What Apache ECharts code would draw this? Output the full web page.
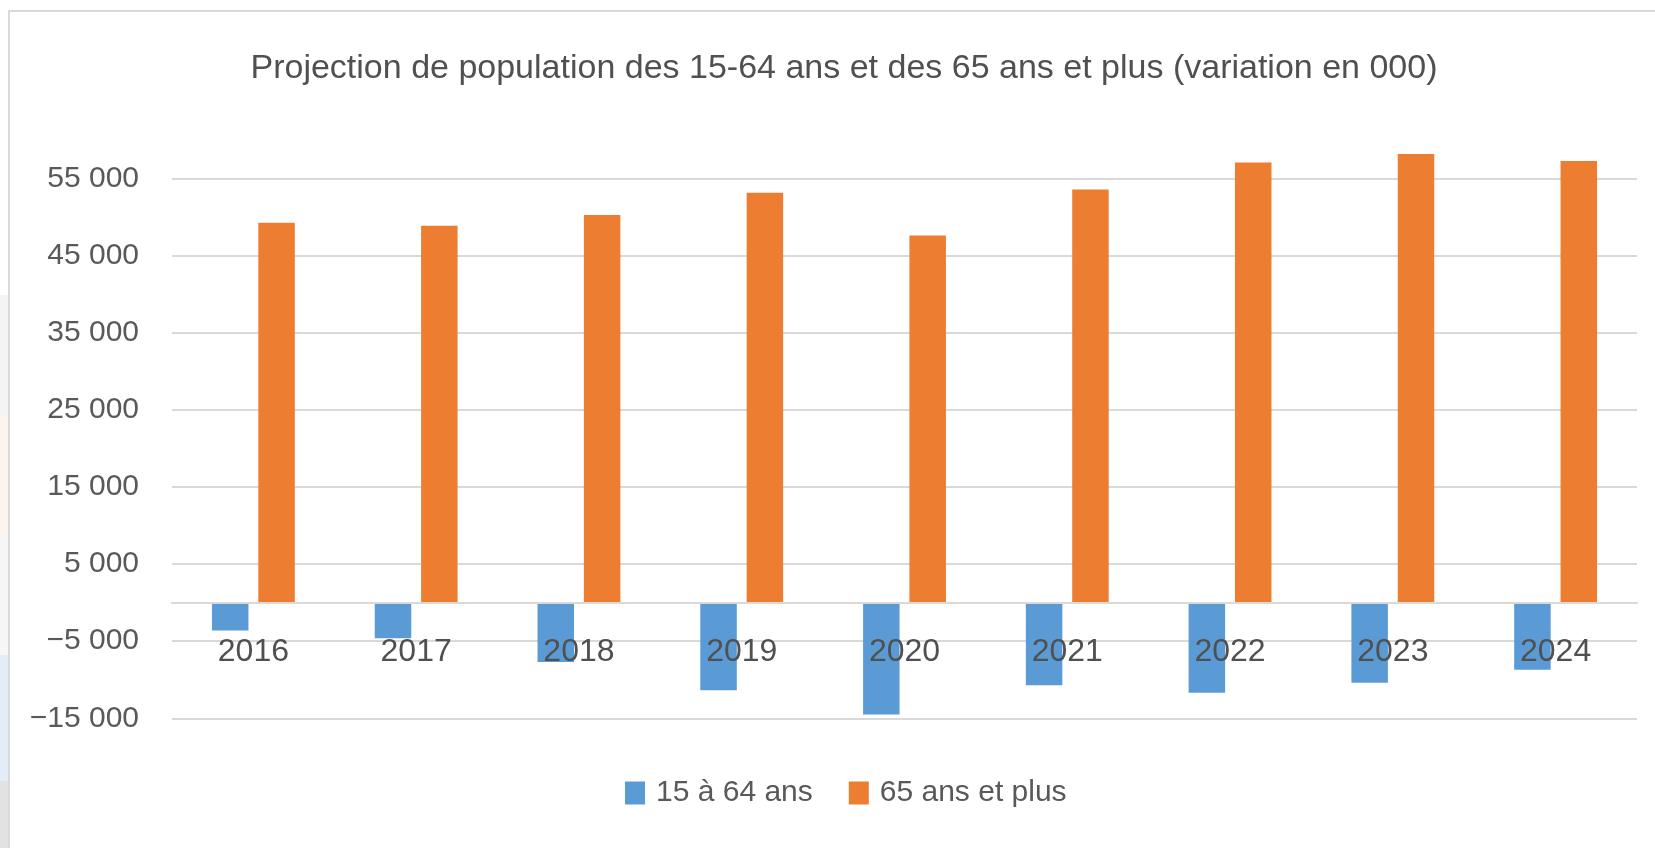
<!DOCTYPE html>
<html>
<head>
<meta charset="utf-8">
<script src="https://cdn.jsdelivr.net/npm/echarts@6/dist/echarts.min.js"></script>
<style>
  html, body { margin: 0; padding: 0; background: #ffffff; }
  #chart { width: 1655px; height: 848px; }
</style>
</head>
<body>
<div id="chart"></div>
<script>
// ---- data ----
const years = ['2016', '2017', '2018', '2019', '2020', '2021', '2022', '2023', '2024'];
const pop15to64 = [-3600, -4600, -7700, -11350, -14500, -10700, -11700, -10400, -8700];
const pop65plus = [49300, 48900, 50300, 53200, 47650, 53600, 57100, 58200, 57300];
const seriesNames = ['15 à 64 ans', '65 ans et plus'];
const titleText = 'Projection de population des 15-64 ans et des 65 ans et plus (variation en 000)';
const yMin = -15000, yMax = 65000, yStep = 10000;

const FONT = "'Liberation Sans', Arial, sans-serif";
const TXT = '#595959';
const GRID = '#d9d9d9';

function fmt(v) {
  const s = Math.abs(v).toString().replace(/\B(?=(\d{3})+(?!\d))/g, ' ');
  return (v < 0 ? '\u2212' : '') + s;
}

const chart = echarts.init(document.getElementById('chart'), null, { renderer: 'canvas' });
chart.setOption({
  animation: false,
  backgroundColor: '#ffffff',
  graphic: [
    { type: 'rect', silent: true, z: -10, shape: { x: 0, y: 295, width: 8, height: 120 }, style: { fill: '#f4f4f4' } },
    { type: 'rect', silent: true, z: -10, shape: { x: 0, y: 415, width: 8, height: 120 }, style: { fill: '#fdf4ee' } },
    { type: 'rect', silent: true, z: -10, shape: { x: 0, y: 535, width: 8, height: 120 }, style: { fill: '#f6f6f6' } },
    { type: 'rect', silent: true, z: -10, shape: { x: 0, y: 655, width: 8, height: 126 }, style: { fill: '#e3edf8' } },
    { type: 'rect', silent: true, z: -10, shape: { x: 0, y: 781, width: 8, height: 67 }, style: { fill: '#e2e2e2' } },
    { type: 'rect', silent: true, z: -5, shape: { x: 9, y: 11, width: 1700, height: 900 },
      style: { fill: 'none', stroke: GRID, lineWidth: 2 } }
  ],
  title: {
    text: titleText,
    left: 839,
    textAlign: 'center',
    top: 47,
    textStyle: { fontFamily: FONT, fontSize: 34, fontWeight: 'normal', color: '#505050' }
  },
  legend: {
    data: seriesNames,
    left: 625,
    top: 778,
    padding: 0,
    icon: 'rect',
    itemWidth: 20,
    itemHeight: 23,
    itemGap: 36,
    textStyle: { fontFamily: FONT, fontSize: 30, color: TXT, padding: [0, 0, 0, 6] }
  },
  grid: { left: 172, right: 18, top: 101.7, bottom: 129.7, containLabel: false },
  xAxis: {
    type: 'category',
    data: years,
    axisLine: { onZero: true, lineStyle: { color: GRID, width: 2 } },
    axisTick: { show: false },
    axisLabel: { fontFamily: FONT, fontSize: 32, color: '#505050', margin: -82 },
    z: 10
  },
  yAxis: {
    type: 'value',
    min: yMin,
    max: yMax,
    interval: yStep,
    axisLine: { show: false },
    axisTick: { show: false },
    splitLine: { show: true, showMaxLine: false, lineStyle: { color: GRID, width: 2 } },
    axisLabel: {
      fontFamily: FONT, fontSize: 30, color: TXT, margin: 33,
      showMaxLabel: false,
      padding: [0, 0, 10, 0],
      formatter: fmt
    }
  },
  series: [
    {
      name: seriesNames[0],
      type: 'bar',
      data: pop15to64,
      barWidth: 36.5,
      barGap: '27%',
      itemStyle: { color: '#5B9BD5' },
      z: 2
    },
    {
      name: seriesNames[1],
      type: 'bar',
      data: pop65plus,
      barWidth: 36.5,
      barGap: '27%',
      itemStyle: { color: '#ED7D31' },
      z: 2
    }
  ]
});
</script>
</body>
</html>
